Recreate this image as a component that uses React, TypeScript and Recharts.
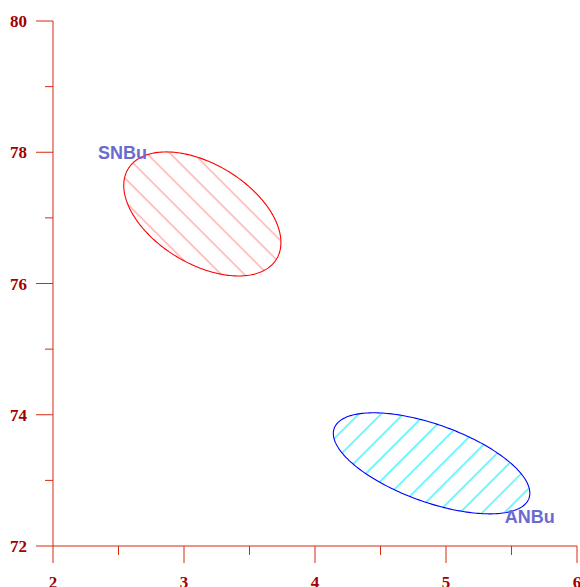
import { ScatterChart, Scatter, XAxis, YAxis, ReferenceArea, ReferenceDot } from "recharts";

// two groups, each summarised by a tilted spread ellipse
const groups = ["SNBu", "ANBu"];
const centerX = [3.14, 4.89];
const centerY = [77.06, 73.26];
const spreadX = [0.6, 0.75];
const spreadY = [0.945, 0.77];
const tilt = [-0.46, -0.59]; // correlation between x and y
const labelX = [2.53, 5.64];
const labelY = [78.0, 72.46];

const xTicks = [2, 2.5, 3, 3.5, 4, 4.5, 5, 5.5, 6];
const xLabels = [2, 3, 4, 5, 6];
const yTicks = [72, 73, 74, 75, 76, 77, 78, 79, 80];
const yLabels = [72, 74, 76, 78, 80];

const AXIS = "#d42a10";
const TICK_TEXT = "#a30000";
const LABEL = "#6b6bcf";
const outline = ["#ff0000", "#0000ff"];
const hatch = ["#ff9494", "#00f0ff"];
const hatchAngle = [-45, 45];
const hatchGap = [16.5, 15.7];
const hatchShift = [11.8, 12.7];

const centers = groups.map((g, i) => ({ name: g, x: centerX[i], y: centerY[i] }));

const tickFont = {
  fontFamily: "'Liberation Serif', 'Times New Roman', serif",
  fontWeight: 700,
  fontSize: 17,
  fill: TICK_TEXT,
};

const XTick = ({ x, y, payload }: any) => {
  const major = xLabels.includes(payload.value);
  return (
    <g>
      <line x1={x} x2={x} y1={y} y2={y + (major ? 17 : 9)} stroke={AXIS} />
      {major && (
        <text x={x} y={y + 42} textAnchor="middle" {...tickFont}>
          {payload.value}
        </text>
      )}
    </g>
  );
};

const YTick = ({ x, y, payload }: any) => {
  const major = yLabels.includes(payload.value);
  return (
    <g>
      <line x1={x} x2={x - (major ? 17 : 8)} y1={y} y2={y} stroke={AXIS} />
      {major && (
        <text x={x - 26} y={y + 6} textAnchor="end" {...tickFont}>
          {payload.value}
        </text>
      )}
    </g>
  );
};

// ellipse inscribed in the box the axes give for centre ± spread
const makeEllipse = (i: number) => (props: any) => {
  const { x, y, width, height } = props;
  const cx = x + width / 2;
  const cy = y + height / 2;
  const a = width / 2;
  const b = height / 2;
  const phi = Math.acos(tilt[i]);
  const pts: string[] = [];
  for (let k = 0; k <= 240; k++) {
    const t = (k / 240) * Math.PI * 2;
    pts.push(`${(cx + a * Math.cos(t)).toFixed(2)},${(cy - b * Math.cos(t + phi)).toFixed(2)}`);
  }
  const id = `hatch-${i}`;
  const gap = hatchGap[i];
  return (
    <g>
      <defs>
        <pattern
          id={id}
          width={gap}
          height={gap}
          patternUnits="userSpaceOnUse"
          patternTransform={`rotate(${hatchAngle[i]})`}
        >
          <line x1={hatchShift[i]} y1={0} x2={hatchShift[i]} y2={gap} stroke={hatch[i]} strokeWidth={1.1} />
        </pattern>
      </defs>
      <path d={"M" + pts.join("L") + "Z"} fill={`url(#${id})`} stroke={outline[i]} strokeWidth={1.1} />
    </g>
  );
};

const makeLabel = (i: number) => (props: any) => (
  <text
    x={props.cx}
    y={props.cy + 7}
    textAnchor="middle"
    fontFamily="'Liberation Sans', Arial, sans-serif"
    fontWeight={700}
    fontSize={18}
    fill={LABEL}
  >
    {groups[i]}
  </text>
);

export default function App() {
  return (
    <div style={{ position: "absolute", left: 0, top: 0, background: "#fff" }}>
      <ScatterChart width={580} height={587} margin={{ top: 21, right: 3, bottom: 0, left: 0 }}>
        <XAxis
          type="number"
          dataKey="x"
          domain={[2, 6]}
          ticks={xTicks}
          interval={0}
          height={41}
          stroke={AXIS}
          tickLine={false}
          tickSize={0}
          tickMargin={0}
          tick={<XTick />}
        />
        <YAxis
          type="number"
          dataKey="y"
          domain={[72, 80]}
          ticks={yTicks}
          interval={0}
          width={53}
          stroke={AXIS}
          tickLine={false}
          tickSize={0}
          tickMargin={0}
          tick={<YTick />}
        />
        <Scatter data={centers} isAnimationActive={false} shape={() => <g />} />
        {groups.map((g, i) => (
          <ReferenceArea
            key={g}
            x1={centerX[i] - spreadX[i]}
            x2={centerX[i] + spreadX[i]}
            y1={centerY[i] - spreadY[i]}
            y2={centerY[i] + spreadY[i]}
            shape={makeEllipse(i)}
          />
        ))}
        {groups.map((g, i) => (
          <ReferenceDot key={`l-${g}`} x={labelX[i]} y={labelY[i]} r={0} shape={makeLabel(i)} />
        ))}
      </ScatterChart>
    </div>
  );
}
